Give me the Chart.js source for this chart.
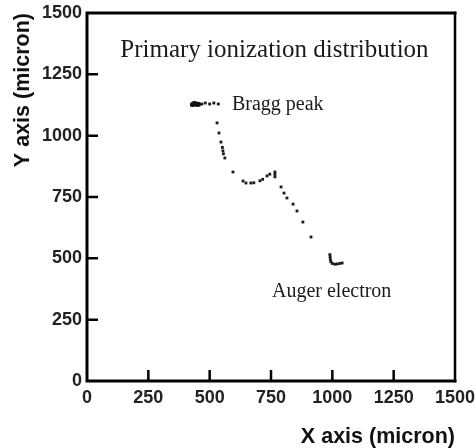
<!DOCTYPE html>
<html>
<head>
<meta charset="utf-8">
<script src="https://cdn.jsdelivr.net/npm/chart.js@4.4.1/dist/chart.umd.min.js"></script>
<style>
  html, body { margin: 0; padding: 0; background: #ffffff; }
  #wrap { width: 475px; height: 448px; position: relative; }
</style>
</head>
<body>
<div id="wrap"><canvas id="c" width="475" height="448"></canvas></div>
<script>
// ---- data (microns) ----
const braggX = [430, 436, 442, 448, 454];
const braggY = [1127, 1131, 1130, 1128, 1128];

const trackX = [468, 482, 500, 517, 535,
  530, 538, 546, 552, 554, 556, 562, 595, 636, 648, 668, 680, 705, 716, 734, 745, 766, 766, 766,
  791, 803, 815, 840, 856, 880, 913,
  990, 991, 992, 994, 1000, 1010, 1020, 1030, 1040];
const trackY = [1129, 1133, 1129, 1133, 1129,
  1052, 1011, 974, 952, 938, 926, 909, 852, 815, 807, 807, 808, 816, 822, 836, 843, 852, 842, 832,
  791, 766, 746, 721, 693, 648, 587,
  515, 505, 495, 486, 479, 476, 477, 479, 481];

const tickValues = [0, 250, 500, 750, 1000, 1250, 1500];
const xTitle = 'X axis (micron)';
const yTitle = 'Y axis (micron)';

const noteTexts = ['Primary ionization distribution', 'Bragg peak', 'Auger electron'];
const noteX = [764, 591, 754];
const noteY = [1321, 1105, 342];
const noteAlign = ['center', 'left', 'left'];
const noteSize = [25, 20, 20];

function pairs(xs, ys) { return xs.map((x, i) => ({ x: x, y: ys[i] })); }

const framePlugin = {
  id: 'frame',
  afterDraw(chart) {
    const { ctx, chartArea: a, scales: { x, y } } = chart;
    ctx.save();
    ctx.strokeStyle = '#000';
    ctx.lineCap = 'square';
    ctx.lineWidth = 3;
    ctx.beginPath();
    ctx.moveTo(a.left, a.top); ctx.lineTo(a.left, a.bottom); ctx.lineTo(a.right, a.bottom);
    ctx.moveTo(a.left, a.top); ctx.lineTo(a.right, a.top);
    ctx.stroke();
    ctx.lineWidth = 2.5;
    ctx.beginPath();
    ctx.moveTo(a.right, a.top); ctx.lineTo(a.right, a.bottom);
    ctx.stroke();
    ctx.lineCap = 'butt';
    ctx.lineWidth = 2.5;
    ctx.beginPath();
    tickValues.slice(1, -1).forEach(v => {
      const px = x.getPixelForValue(v);
      ctx.moveTo(px, a.bottom); ctx.lineTo(px, a.bottom - 11);
      const py = y.getPixelForValue(v);
      ctx.moveTo(a.left, py); ctx.lineTo(a.left + 11, py);
    });
    ctx.stroke();
    // annotations
    ctx.fillStyle = '#1a1a1a';
    ctx.textBaseline = 'alphabetic';
    noteTexts.forEach((t, i) => {
      ctx.font = noteSize[i] + 'px "Liberation Serif", "Times New Roman", serif';
      ctx.textAlign = noteAlign[i];
      ctx.fillText(t, x.getPixelForValue(noteX[i]), y.getPixelForValue(noteY[i]));
    });
    ctx.restore();
  }
};

const tickFont = { family: '"Liberation Sans", Arial, sans-serif', size: 18, weight: 'bold' };
const titleFont = { family: '"Liberation Sans", Arial, sans-serif', size: 21.5, weight: 'bold', lineHeight: 1 };
const plainNumber = v => String(v);

new Chart(document.getElementById('c'), {
  type: 'scatter',
  data: {
    datasets: [
      {
        label: 'Bragg peak',
        data: pairs(braggX, braggY),
        pointStyle: 'circle',
        pointRadius: 2.6,
        borderWidth: 0,
        backgroundColor: '#111',
        borderColor: '#111'
      },
      {
        label: 'Track',
        data: pairs(trackX, trackY),
        pointStyle: 'rect',
        pointRadius: 2,
        borderWidth: 0,
        backgroundColor: '#1a1a1a',
        borderColor: '#1a1a1a'
      }
    ]
  },
  options: {
    responsive: false,
    animation: false,
    events: [],
    layout: { padding: { left: 0, top: 13, right: 20, bottom: 0 } },
    plugins: { legend: { display: false }, tooltip: { enabled: false }, title: { display: false } },
    scales: {
      x: {
        type: 'linear',
        min: 0, max: 1500,
        afterBuildTicks(s) { s.ticks = tickValues.map(v => ({ value: v })); },
        afterFit(s) { s.height = 67; s.paddingLeft = 0; s.paddingRight = 0; },
        grid: { display: false, drawTicks: false },
        border: { display: false },
        ticks: { font: tickFont, color: '#222', padding: 6, maxRotation: 0, autoSkip: false, callback: plainNumber },
        title: { display: true, text: xTitle, align: 'end', font: titleFont, color: '#111', padding: { top: 0, bottom: 0 } }
      },
      y: {
        type: 'linear',
        min: 0, max: 1500,
        afterBuildTicks(s) { s.ticks = tickValues.map(v => ({ value: v })); },
        afterFit(s) { s.width = 87; s.paddingTop = 0; s.paddingBottom = 0; },
        grid: { display: false, drawTicks: false },
        border: { display: false },
        ticks: { font: tickFont, color: '#222', padding: 5, autoSkip: false, callback: plainNumber },
        title: { display: true, text: yTitle, align: 'end', font: titleFont, color: '#111', padding: { top: 12, bottom: 0 } }
      }
    }
  },
  plugins: [framePlugin]
});
</script>
</body>
</html>
